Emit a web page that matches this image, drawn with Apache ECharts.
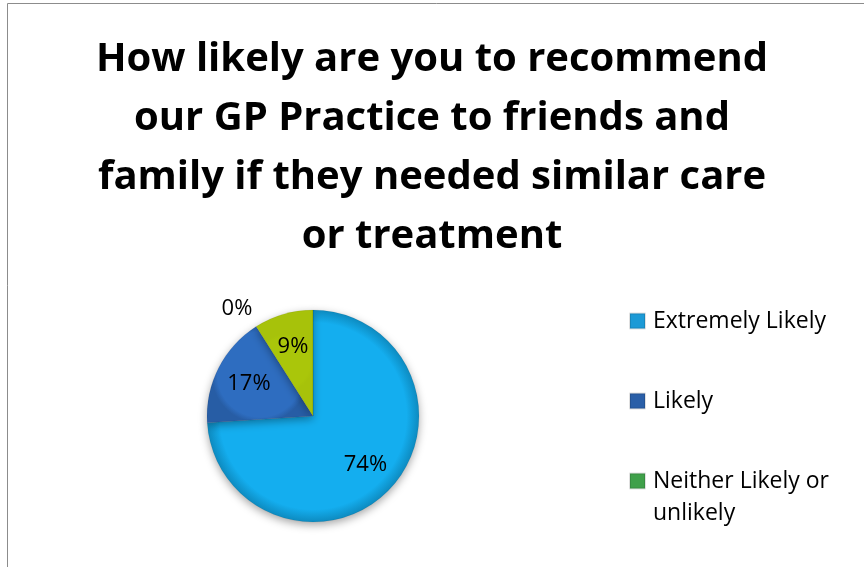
<!DOCTYPE html>
<html><head><meta charset="utf-8">
<script src="https://cdn.jsdelivr.net/npm/echarts@6/dist/echarts.min.js"></script>
<style>html,body{margin:0;padding:0;background:#fff}#c{width:864px;height:567px}</style>
</head><body><div id="c"></div>
<script>
const titleText = 'How likely are you to recommend\nour GP Practice to friends and\nfamily if they needed similar care\nor treatment';
const categories = ['Extremely Likely', 'Likely', 'Neither Likely or unlikely', 'Unlikely'];
const legendLabels = ['\nExtremely Likely\n', '\nLikely\n', '\nNeither Likely or\nunlikely'];
const values = [74, 17, 9, 0];
const sliceColors = ['#14AEEF', '#2E6DC0', '#AAC60A', '#C0504D'];
const legendColors = ['#1C9AD6', '#2A5FA8', '#3FA04A'];

const chart = echarts.init(document.getElementById('c'));
const cx = 313, cy = 416, R = 106;
const FONT = 'Open Sans';
function grad(c){
  return new echarts.graphic.RadialGradient(0.5, 0.5, 0.5, [
    {offset:0, color:c},{offset:0.88, color:c},{offset:1, color:echarts.color.modifyHSL(c, null, null, 0.4)}
  ]);
}
const mainData = categories.map((n,i)=>({name:n, value:values[i], itemStyle:{color:grad(sliceColors[i])}}));
chart.setOption({
  animation:false,
  title:{text:titleText, left:'center', top:25, itemGap:0,
    textStyle:{fontFamily:FONT, fontWeight:'bold', fontSize:40, lineHeight:59, color:'#000'}},
  graphic:[{type:'rect', shape:{x:7.5,y:3.5,width:900,height:700}, style:{fill:'none', stroke:'#8c8c8c', lineWidth:1}, silent:true}],
  legend:{orient:'vertical', left:629, top:273, padding:0, itemWidth:15, itemHeight:15, itemGap:-16, icon:'rect',
    selectedMode:false,
    textStyle:{fontFamily:FONT, fontSize:23, color:'#000', lineHeight:32, padding:[0,0,0,3]},
    formatter:function(n){ const i = categories.indexOf(n); return legendLabels[i]; },
    data:categories.slice(0,3).map((n,i)=>({name:n, itemStyle:{color:legendColors[i]}}))},
  series:[
    {type:'pie', center:[cx,cy], radius:[0,R], startAngle:90, clockwise:true, minAngle:0,
     avoidLabelOverlap:false, stillShowZeroSum:true,
     itemStyle:{shadowBlur:8, shadowColor:'rgba(0,0,0,0.35)', shadowOffsetY:3, borderColor:'rgba(0,0,0,0.12)', borderWidth:0.5},
     label:{show:false},
     labelLine:{show:false},
     data:mainData.map((d,i)=> values[i]===0 ? Object.assign({}, d, {label:{show:true, position:'outside', formatter:'{d}%', fontFamily:FONT, fontSize:22, color:'#000'}}) : d),
     labelLayout:function(p){ return values[p.dataIndex]===0 ? {x:237, y:309, align:'center', verticalAlign:'middle'} : {}; }
    },
    {type:'pie', center:[cx,cy], radius:[0,R*1.3], startAngle:90, clockwise:true, silent:true,
     avoidLabelOverlap:false, itemStyle:{color:'rgba(0,0,0,0)'}, emphasis:{disabled:true},
     label:{show:true, position:'inside', formatter:'{d}%', fontFamily:FONT, fontSize:22, color:'#000'},
     labelLine:{show:false},
     data:categories.map((n,i)=>({name:n, value:values[i], label:{show: values[i]>0}}))
    }
  ]
});
</script></body></html>
